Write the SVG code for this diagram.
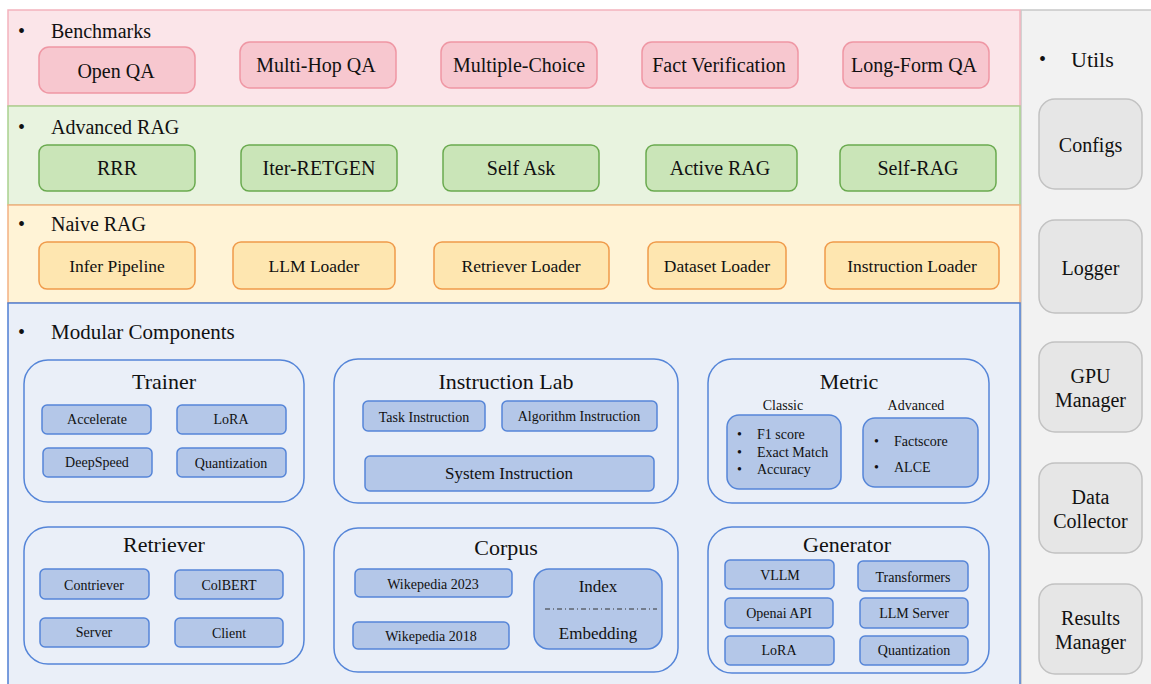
<svg xmlns="http://www.w3.org/2000/svg" width="1151" height="684" viewBox="0 0 1151 684" font-family="'Liberation Serif', 'DejaVu Serif', serif">
<style>
text{fill:#111;dominant-baseline:central}
.c{text-anchor:middle}
.hdr{font-size:20px}
.big{font-size:20px}
.nv{font-size:17.5px}
.ttl{font-size:22px}
.sm{font-size:14px}
.md{font-size:17px}
.ut{font-size:20px}
.bandB{fill:#fbe5e9;stroke:#f3b3bd;stroke-width:1.5}
.bandA{fill:#e8f3df;stroke:#a9d18e;stroke-width:1.5}
.bandN{fill:#fff3d6;stroke:#f4b183;stroke-width:1.5}
.bandM{fill:#eaeff8;stroke:#4f7fd2;stroke-width:1.5}
.boxB{fill:#f7c7cf;stroke:#ef97a4;stroke-width:1.5}
.boxA{fill:#cae5b8;stroke:#6aaa4f;stroke-width:1.5}
.boxN{fill:#fee6b0;stroke:#f09a4a;stroke-width:1.5}
.cont{fill:#eaeff8;stroke:#5585d8;stroke-width:1.5}
.inn{fill:#b4c7e8;stroke:#5585d8;stroke-width:1.5}
.utp{fill:#f2f2f2;stroke:#c8c8c8;stroke-width:1.5}
.utb{fill:#e6e6e6;stroke:#c2c2c2;stroke-width:1.5}
</style>
<g font-family="Liberation Serif">

<g id="utils-panel">
<rect class="utp" x="1021" y="10" width="140" height="690"/>
<text x="1039" y="59" style="font-size:20px">•</text>
<text x="1071" y="59" style="font-size:22px">Utils</text>
</g>

<g id="band-benchmarks">
<rect class="bandB" x="8" y="10" width="1012" height="96"/>
<text class="hdr" x="18" y="31">•</text>
<text class="hdr" x="51" y="31">Benchmarks</text>
</g>
<g id="band-advanced">
<rect class="bandA" x="8" y="106" width="1012" height="99"/>
<text class="hdr" x="18" y="127">•</text>
<text class="hdr" x="51" y="127">Advanced RAG</text>
</g>
<g id="band-naive">
<rect class="bandN" x="8" y="205" width="1012" height="98"/>
<text class="hdr" x="18" y="224">•</text>
<text class="hdr" x="51" y="224">Naive RAG</text>
</g>
<g id="band-modular">
<rect class="bandM" x="8" y="303" width="1012" height="400"/>
<text class="hdr" x="18" y="332">•</text>
<text class="hdr" x="51" y="332" style="font-size:21px">Modular Components</text>
</g>

<!-- Benchmarks -->
<g id="open-qa"><rect class="boxB" x="39" y="47" width="156" height="46" rx="10"/><text class="big c" x="116" y="71">Open QA</text></g>
<g id="multi-hop-qa"><rect class="boxB" x="240" y="42" width="156" height="46" rx="10"/><text class="big c" x="316" y="65">Multi-Hop QA</text></g>
<g id="multiple-choice"><rect class="boxB" x="441" y="42" width="156" height="46" rx="10"/><text class="big c" x="519" y="65">Multiple-Choice</text></g>
<g id="fact-verification"><rect class="boxB" x="642" y="42" width="156" height="46" rx="10"/><text class="big c" x="719" y="65">Fact Verification</text></g>
<g id="long-form-qa"><rect class="boxB" x="843" y="42" width="146" height="46" rx="10"/><text class="big c" x="914" y="65">Long-Form QA</text></g>

<!-- Advanced RAG -->
<g id="rrr"><rect class="boxA" x="39" y="145" width="156" height="46" rx="8"/><text class="big c" x="117" y="168">RRR</text></g>
<g id="iter-retgen"><rect class="boxA" x="241" y="145" width="156" height="46" rx="8"/><text class="big c" x="319" y="168">Iter-RETGEN</text></g>
<g id="self-ask"><rect class="boxA" x="443" y="145" width="156" height="46" rx="8"/><text class="big c" x="521" y="168">Self Ask</text></g>
<g id="active-rag"><rect class="boxA" x="646" y="145" width="151" height="46" rx="8"/><text class="big c" x="720" y="168">Active RAG</text></g>
<g id="self-rag"><rect class="boxA" x="840" y="145" width="156" height="46" rx="8"/><text class="big c" x="918" y="168">Self-RAG</text></g>

<!-- Naive RAG -->
<g id="infer-pipeline"><rect class="boxN" x="39" y="242" width="156" height="47" rx="8"/><text class="nv c" x="117" y="265.5">Infer Pipeline</text></g>
<g id="llm-loader"><rect class="boxN" x="233" y="242" width="162" height="47" rx="8"/><text class="nv c" x="314" y="265.5">LLM Loader</text></g>
<g id="retriever-loader"><rect class="boxN" x="434" y="242" width="175" height="47" rx="8"/><text class="nv c" x="521" y="265.5">Retriever Loader</text></g>
<g id="dataset-loader"><rect class="boxN" x="648" y="242" width="138" height="47" rx="8"/><text class="nv c" x="717" y="265.5">Dataset Loader</text></g>
<g id="instruction-loader"><rect class="boxN" x="825" y="242" width="174" height="47" rx="8"/><text class="nv c" x="912" y="265.5">Instruction Loader</text></g>

<!-- Trainer -->
<g id="trainer">
<rect class="cont" x="24" y="360" width="280" height="142" rx="24"/>
<text class="ttl c" x="164" y="381">Trainer</text>
<rect class="inn" x="42" y="405" width="109" height="29" rx="5"/><text class="sm c" x="97" y="419.5">Accelerate</text>
<rect class="inn" x="177" y="405" width="109" height="29" rx="5"/><text class="sm c" x="231" y="419.5">LoRA</text>
<rect class="inn" x="43" y="448" width="109" height="29" rx="5"/><text class="sm c" x="97" y="462.5">DeepSpeed</text>
<rect class="inn" x="177" y="448" width="109" height="29" rx="5"/><text class="sm c" x="231" y="463">Quantization</text>
</g>

<!-- Instruction Lab -->
<g id="instruction-lab">
<rect class="cont" x="334" y="359" width="344" height="144" rx="24"/>
<text class="ttl c" x="506" y="381">Instruction Lab</text>
<rect class="inn" x="363" y="401" width="122" height="30" rx="5"/><text class="sm c" x="424" y="417">Task Instruction</text>
<rect class="inn" x="502" y="401" width="155" height="30" rx="5"/><text class="sm c" x="579" y="416">Algorithm Instruction</text>
<rect class="inn" x="365" y="456" width="289" height="35" rx="5"/><text class="md c" x="509" y="473.5">System Instruction</text>
</g>

<!-- Metric -->
<g id="metric">
<rect class="cont" x="708" y="359" width="281" height="144" rx="24"/>
<text class="ttl c" x="849" y="381">Metric</text>
<text class="sm c" x="783" y="405">Classic</text>
<text class="sm c" x="916" y="405">Advanced</text>
<rect class="inn" x="727" y="415" width="114" height="74" rx="12"/>
<text class="sm" x="737" y="434">•</text><text class="sm" x="757" y="434">F1 score</text>
<text class="sm" x="737" y="452">•</text><text class="sm" x="757" y="452">Exact Match</text>
<text class="sm" x="737" y="469">•</text><text class="sm" x="757" y="469">Accuracy</text>
<rect class="inn" x="863" y="418" width="115" height="69" rx="12"/>
<text class="sm" x="874" y="441">•</text><text class="sm" x="894" y="441">Factscore</text>
<text class="sm" x="874" y="467">•</text><text class="sm" x="894" y="467">ALCE</text>
</g>

<!-- Retriever -->
<g id="retriever">
<rect class="cont" x="24" y="527" width="280" height="137" rx="24"/>
<text class="ttl c" x="164" y="544">Retriever</text>
<rect class="inn" x="40" y="569" width="109" height="30" rx="5"/><text class="sm c" x="94" y="585">Contriever</text>
<rect class="inn" x="175" y="570" width="108" height="29" rx="5"/><text class="sm c" x="229" y="585">ColBERT</text>
<rect class="inn" x="40" y="618" width="109" height="29" rx="5"/><text class="sm c" x="94" y="632">Server</text>
<rect class="inn" x="175" y="618" width="108" height="29" rx="5"/><text class="sm c" x="229" y="633">Client</text>
</g>

<!-- Corpus -->
<g id="corpus">
<rect class="cont" x="334" y="528" width="344" height="144" rx="24"/>
<text class="ttl c" x="506" y="547">Corpus</text>
<rect class="inn" x="355" y="569" width="157" height="28" rx="5"/><text class="sm c" x="433" y="584">Wikepedia 2023</text>
<rect class="inn" x="353" y="622" width="156" height="27" rx="5"/><text class="sm c" x="431" y="636">Wikepedia 2018</text>
<rect class="inn" x="534" y="569" width="128" height="80" rx="15"/>
<text class="md c" x="598" y="586">Index</text>
<line x1="545" y1="609" x2="657" y2="609" stroke="#333" stroke-width="1" stroke-dasharray="5 3 1 3"/>
<text class="md c" x="598" y="633">Embedding</text>
</g>

<!-- Generator -->
<g id="generator">
<rect class="cont" x="708" y="527" width="281" height="146" rx="24"/>
<text class="ttl c" x="847" y="544">Generator</text>
<rect class="inn" x="725" y="560" width="109" height="29" rx="5"/><text class="sm c" x="780" y="575">VLLM</text>
<rect class="inn" x="858" y="561" width="110" height="30" rx="5"/><text class="sm c" x="913" y="577">Transformers</text>
<rect class="inn" x="725" y="598" width="108" height="30" rx="5"/><text class="sm c" x="779" y="613">Openai API</text>
<rect class="inn" x="860" y="598" width="108" height="30" rx="5"/><text class="sm c" x="914" y="613">LLM Server</text>
<rect class="inn" x="725" y="636" width="109" height="29" rx="5"/><text class="sm c" x="779" y="650">LoRA</text>
<rect class="inn" x="860" y="636" width="108" height="29" rx="5"/><text class="sm c" x="914" y="650">Quantization</text>
</g>

<!-- Utils -->
<g id="configs"><rect class="utb" x="1039" y="99" width="103" height="90" rx="16"/><text class="ut c" x="1090.5" y="145">Configs</text></g>
<g id="logger"><rect class="utb" x="1039" y="220" width="103" height="93" rx="16"/><text class="ut c" x="1090.5" y="268">Logger</text></g>
<g id="gpu-manager"><rect class="utb" x="1039" y="342" width="103" height="90" rx="16"/><text class="ut c" x="1090.5" y="376">GPU</text><text class="ut c" x="1090.5" y="400">Manager</text></g>
<g id="data-collector"><rect class="utb" x="1039" y="463" width="103" height="90" rx="16"/><text class="ut c" x="1090.5" y="497">Data</text><text class="ut c" x="1090.5" y="521">Collector</text></g>
<g id="results-manager"><rect class="utb" x="1039" y="584" width="103" height="90" rx="16"/><text class="ut c" x="1090.5" y="618">Results</text><text class="ut c" x="1090.5" y="642">Manager</text></g>

<g id="connectors"></g>
</g>
</svg>
